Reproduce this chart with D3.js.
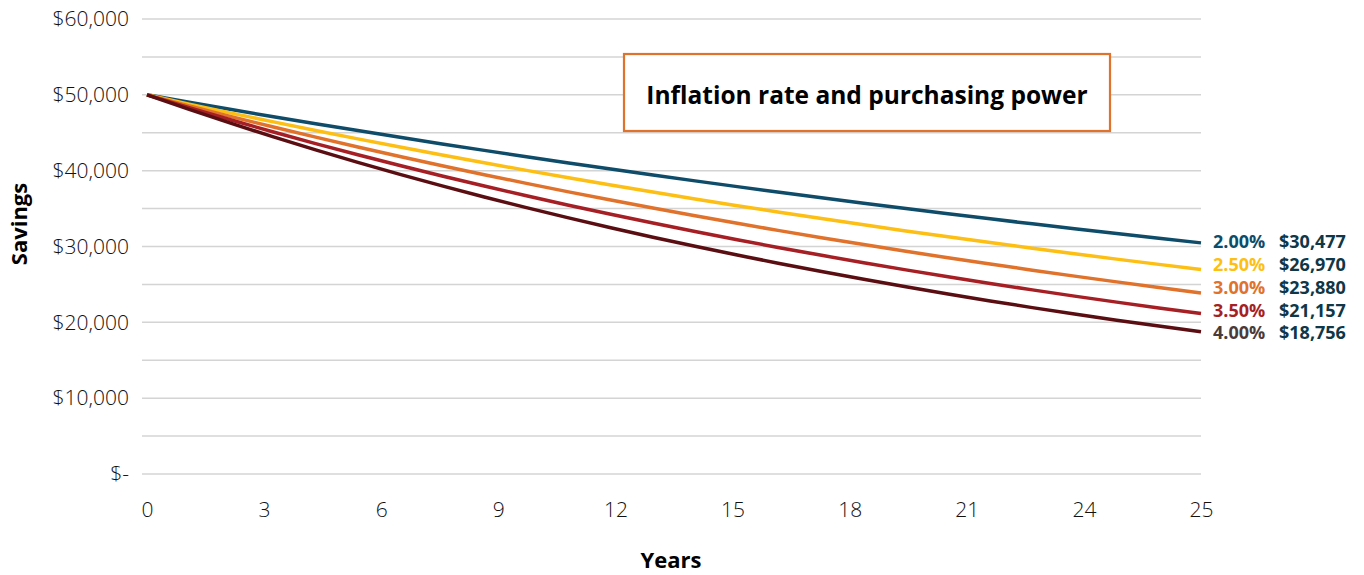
<!DOCTYPE html>
<html>
<head>
<meta charset="utf-8">
<script src="https://cdn.jsdelivr.net/npm/d3@7"></script>
<style>
  html, body { margin: 0; padding: 0; background: #fff; }
  svg { display: block; }
  text { font-family: "Open Sans", "Noto Sans", sans-serif; }
</style>
</head>
<body>
<svg id="chart" width="1364" height="575"></svg>
<script>
// ---- data ----
const years = d3.range(0, 26);
const xTickLabels = ["0", "3", "6", "9", "12", "15", "18", "21", "24", "25"];
const yTickValues = [0, 10000, 20000, 30000, 40000, 50000, 60000];
const yGridValues = [0, 5000, 10000, 15000, 20000, 25000, 30000, 35000, 40000, 45000, 50000, 55000, 60000];
const rateLabels = ["2.00%", "2.50%", "3.00%", "3.50%", "4.00%"];
const endLabels = ["$30,477", "$26,970", "$23,880", "$21,157", "$18,756"];
const rate200 = [50000,49020,48058,47116,46192,45287,44399,43528,42675,41838,41017,40213,39425,38652,37894,37151,36422,35708,35008,34322,33649,32989,32342,31708,31086,30477];
const rate250 = [50000,48780,47591,46430,45297,44193,43115,42063,41037,40036,39060,38107,37178,36271,35386,34523,33681,32860,32058,31276,30514,29769,29043,28335,27644,26970];
const rate300 = [50000,48544,47130,45757,44424,43130,41874,40655,39471,38321,37205,36121,35069,34048,33056,32093,31158,30251,29370,28514,27684,26878,26095,25335,24597,23880];
const rate350 = [50000,48309,46676,45097,43572,42099,40675,39299,37970,36686,35446,34247,33089,31970,30889,29845,28835,27860,26918,26008,25128,24278,23457,22665,21898,21157];
const rate400 = [50000,48077,46228,44450,42740,41096,39516,37996,36535,35130,33778,32479,31230,30029,28874,27763,26695,25669,24682,23732,22819,21942,21098,20286,19506,18756];
const seriesValues = [rate200, rate250, rate300, rate350, rate400];
const title = "Inflation rate and purchasing power";
const xTitle = "Years";
const yTitle = "Savings";

// ---- styles ----
const colors = ["#0E4C69", "#FDBF14", "#E0722B", "#A51F24", "#5A0E12"];
const rateLabelColors = ["#0E4C69", "#FDBF14", "#E0722B", "#A51F24", "#4A3B3B"];
const valueColor = "#0F3747";

const svg = d3.select("#chart");
const mLeft = 147, mRight = 1201, mTop = 19, mBottom = 474;

const x = d3.scaleLinear().domain([0, 25]).range([mLeft, mRight]);
const xLab = d3.scalePoint().domain(xTickLabels).range([mLeft, mRight]);
const y = d3.scaleLinear().domain([0, 60000]).range([mBottom, mTop]);

// gridlines
svg.append("g").selectAll("line").data(yGridValues).join("line")
  .attr("x1", mLeft - 5).attr("x2", mRight)
  .attr("y1", d => y(d)).attr("y2", d => y(d))
  .attr("stroke", "#d4d4d4").attr("stroke-width", 1.5);

// y axis
const yAxis = d3.axisLeft(y).tickValues(yTickValues).tickSize(0).tickPadding(0)
  .tickFormat(d => d === 0 ? "$-" : "$" + d3.format(",")(d));
const yg = svg.append("g").attr("transform", `translate(${mLeft - 18},0)`).call(yAxis);
yg.select(".domain").remove();
yg.selectAll("text").attr("font-size", 21).attr("font-weight", 300).attr("fill", "#111")
  .attr("font-family", "'Open Sans', sans-serif");

// x axis
const xAxis = d3.axisBottom(xLab).tickSize(0).tickPadding(0);
const xg = svg.append("g").attr("transform", `translate(0,${mBottom + 28})`).call(xAxis);
xg.select(".domain").remove();
xg.selectAll("text").attr("font-size", 21).attr("font-weight", 300).attr("fill", "#111")
  .attr("font-family", "'Open Sans', sans-serif");

// lines
const line = d3.line().x((d, i) => x(years[i])).y(d => y(d));
svg.append("g").selectAll("path").data(seriesValues).join("path")
  .attr("d", d => line(d))
  .attr("fill", "none")
  .attr("stroke", (d, i) => colors[i])
  .attr("stroke-width", 3.5)
  .attr("stroke-linejoin", "round");

// end labels (evenly spaced, starting at first series end)
const ends = seriesValues.map(s => y(s[s.length - 1]));
const step = 22.8;
const startY = ends[0] - 1;
const lg = svg.append("g");
rateLabels.forEach((lab, i) => {
  const ly = startY + i * step;
  lg.append("text").attr("x", mRight + 12).attr("y", ly).attr("dy", "0.35em")
    .attr("font-size", 18).attr("font-weight", 700).attr("fill", rateLabelColors[i]).text(lab);
  lg.append("text").attr("x", mRight + 78).attr("y", ly).attr("dy", "0.35em")
    .attr("font-size", 18).attr("font-weight", 700).attr("fill", valueColor).text(endLabels[i]);
});

// title box
svg.append("rect").attr("x", 624).attr("y", 54).attr("width", 486).attr("height", 77)
  .attr("fill", "#fff").attr("stroke", "#E0722B").attr("stroke-width", 2.2);
svg.append("text").attr("x", 867).attr("y", 95).attr("dy", "0.35em").attr("text-anchor", "middle")
  .attr("font-size", 24.5).attr("font-weight", 700).attr("fill", "#000").text(title);

// axis titles
svg.append("text").attr("x", 671).attr("y", 560).attr("dy", "0.35em").attr("text-anchor", "middle")
  .attr("font-size", 22).attr("font-weight", 700).attr("fill", "#000").text(xTitle);
svg.append("text").attr("transform", "translate(19,224) rotate(-90)").attr("dy", "0.35em")
  .attr("text-anchor", "middle")
  .attr("font-size", 22).attr("font-weight", 700).attr("fill", "#000").text(yTitle);
</script>
</body>
</html>
